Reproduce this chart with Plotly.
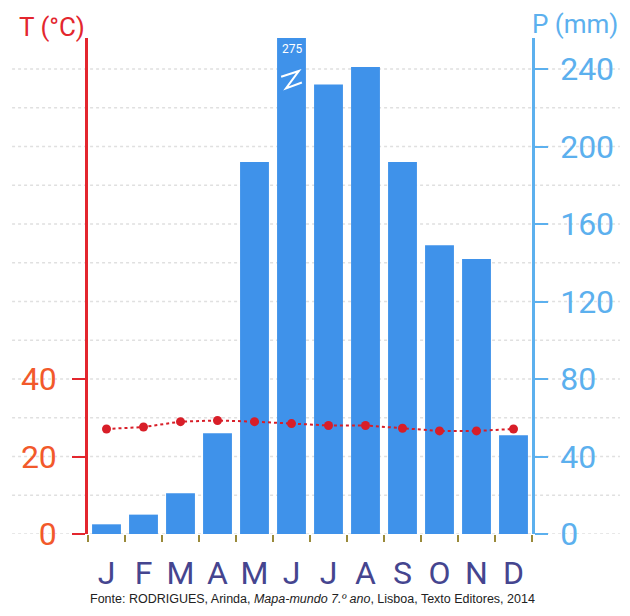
import plotly.graph_objects as go

months = ["J", "F", "M", "A", "M", "J", "J", "A", "S", "O", "N", "D"]
precip_mm = [5, 10, 21, 52, 192, 275, 232, 241, 192, 149, 142, 51]
temp_c = [27.1, 27.6, 29.0, 29.3, 29.0, 28.5, 28.0, 28.0, 27.3, 26.6, 26.6, 27.1]
p_ticks = [0, 40, 80, 120, 160, 200, 240]
t_ticks = [0, 20, 40]
grid_vals = list(range(0, 241, 20))
p_max = 256
x_pos = list(range(1, len(months) + 1))

FONT = "Roboto"
RED = "#e3262e"
ORANGE = "#f2592b"
BLUE = "#5cb0ee"
BAR = "#3f92ea"

fig = go.Figure()
fig.add_trace(go.Bar(x=x_pos, y=precip_mm, marker=dict(color=BAR, line=dict(width=0)),
                     width=0.78, yaxis="y", showlegend=False))
fig.add_trace(go.Scatter(x=x_pos, y=temp_c, yaxis="y2", mode="lines+markers",
                         line=dict(color="#d81e28", width=2, dash="dot"),
                         marker=dict(color="#d81e28", size=9), showlegend=False))

shapes = []
for g in grid_vals:
    shapes.append(dict(type="line", xref="paper", yref="y", x0=-0.171, x1=1.198, y0=g, y1=g,
                       line=dict(color="#e0e0e0", width=1.5, dash="dot"), layer="below"))

# axis-break marker on the truncated bar
jun = x_pos[5]
brk = p_max - 22
shapes.append(dict(type="path", xref="x", yref="y",
                   path=f"M {jun-0.28},{brk+2} L {jun+0.2},{brk+5} L {jun-0.15},{brk-4} L {jun+0.28},{brk-1}",
                   line=dict(color="white", width=2)))

annotations = [
    dict(text="T (°C)", xref="paper", yref="paper", x=-0.081, y=1.0, xanchor="center",
         yanchor="middle", yshift=11,
         showarrow=False, font=dict(family=FONT, size=26, color=RED)),
    dict(text="P (mm)", xref="paper", yref="paper", x=1.097, y=1.0, xanchor="center",
         yanchor="middle", yshift=14,
         showarrow=False, font=dict(family=FONT, size=26, color=BLUE)),
    dict(text="275", xref="x", yref="y", x=jun, y=p_max, yanchor="top", yshift=-2,
         showarrow=False, font=dict(family=FONT, size=12, color="white")),
    dict(text="Fonte: RODRIGUES, Arinda, <i>Mapa-mundo 7.º ano</i>, Lisboa, Texto Editores, 2014",
         xref="paper", yref="paper", x=0.505, y=0, xanchor="center", yanchor="bottom", yshift=-74,
         showarrow=False, font=dict(family="Liberation Sans", size=12.5, color="#222222")),
]

fig.update_layout(
    width=614, height=600,
    margin=dict(l=80, r=90, t=30, b=74, autoexpand=False),
    paper_bgcolor="white", plot_bgcolor="white",
    bargap=0.22,
    shapes=shapes, annotations=annotations,
    xaxis=dict(range=[0.5, 12.5], tickvals=x_pos, ticktext=months, ticks="",
               showgrid=False, zeroline=False, showline=False,
               tickfont=dict(family=FONT, size=32, color="#45458f"),
               ticklabelstandoff=17,
               minor=dict(tickvals=[v - 0.5 for v in x_pos] + [x_pos[-1] + 0.5], ticks="outside",
                          ticklen=7, tickcolor="#9a8a3a", tickwidth=1.5, showgrid=False)),
    yaxis=dict(range=[0, p_max], side="right", tickvals=p_ticks, showgrid=False, zeroline=False,
               showline=True, linecolor=BLUE, linewidth=2.5, ticks="outside", ticklen=13,
               tickcolor=BLUE, tickwidth=2, ticklabelstandoff=6,
               tickfont=dict(family=FONT, size=32, color=BLUE)),
    yaxis2=dict(range=[0, p_max / 2], side="left", overlaying="y", tickvals=t_ticks, showgrid=False,
                zeroline=False, showline=True, linecolor=RED, linewidth=2.5, ticks="outside",
                ticklen=13, tickcolor=RED, tickwidth=2, ticklabelstandoff=9,
                tickfont=dict(family=FONT, size=32, color=ORANGE)),
)

fig.write_html("out.html")
